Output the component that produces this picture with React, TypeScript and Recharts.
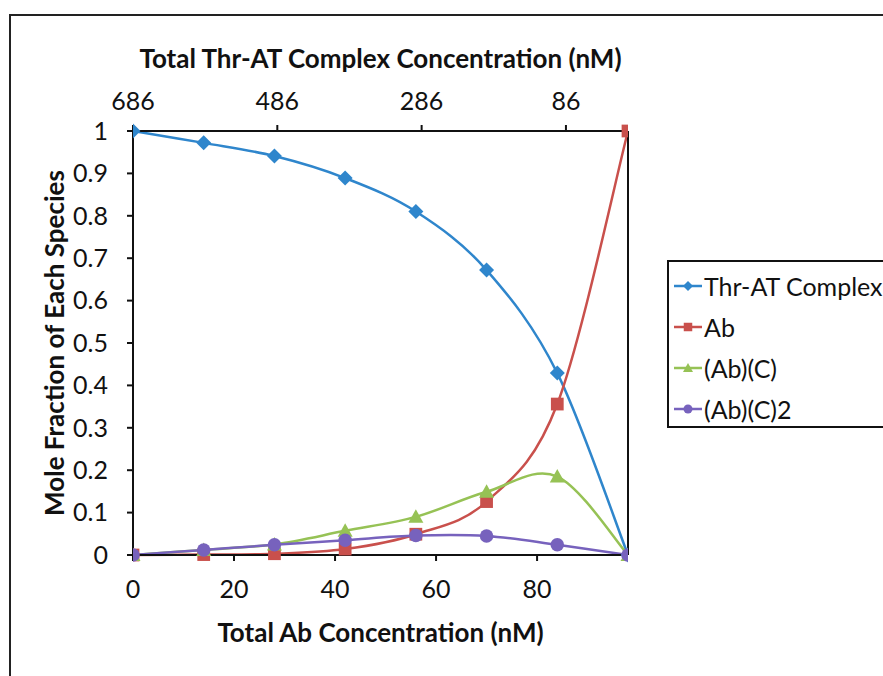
import React from 'react';
import { LineChart, Line, XAxis, YAxis } from 'recharts';

const abConc = [0, 14, 28, 42, 56, 70, 84, 98];
const thrATTotalConc = [686, 588, 490, 392, 294, 196, 98, 0];
const thrAT = [1, 0.972, 0.941, 0.889, 0.81, 0.672, 0.429, 0];
const abFree = [0, 0.001, 0.003, 0.014, 0.049, 0.126, 0.356, 1];
const abC = [0, 0.012, 0.025, 0.057, 0.09, 0.149, 0.185, 0];
const abC2 = [0, 0.012, 0.024, 0.035, 0.046, 0.045, 0.024, 0];

const bottomTicks = [0, 20, 40, 60, 80];
const topTicks = [686, 486, 286, 86];
const yTicks = [0, 0.1, 0.2, 0.3, 0.4, 0.5, 0.6, 0.7, 0.8, 0.9, 1];

const seriesNames = ['Thr-AT Complex', 'Ab', '(Ab)(C)', '(Ab)(C)2'];
const COLORS = ['#2f86cc', '#c9504c', '#96c255', '#7762bd'];

const data = abConc.map((x, i) => ({
  ab: x,
  thrTot: thrATTotalConc[i],
  thr: thrAT[i],
  abf: abFree[i],
  abc: abC[i],
  abc2: abC2[i],
}));

const FONT = 'Lato, "Open Sans", sans-serif';

// Excel-like smoothed line (Catmull-Rom through points)
const excelSmooth = (context: any) => {
  let xs: number[] = [];
  let ys: number[] = [];
  return {
    areaStart() {},
    areaEnd() {},
    lineStart() {
      xs = [];
      ys = [];
    },
    point(x: number, y: number) {
      xs.push(+x);
      ys.push(+y);
    },
    lineEnd() {
      const n = xs.length;
      if (!n) return;
      context.moveTo(xs[0], ys[0]);
      for (let i = 0; i < n - 1; i++) {
        const i0 = Math.max(i - 1, 0);
        const i3 = Math.min(i + 2, n - 1);
        const c1x = xs[i] + (xs[i + 1] - xs[i0]) / 6;
        const c1y = ys[i] + (ys[i + 1] - ys[i0]) / 6;
        const c2x = xs[i + 1] - (xs[i3] - xs[i]) / 6;
        const c2y = ys[i + 1] - (ys[i3] - ys[i]) / 6;
        context.bezierCurveTo(c1x, c1y, c2x, c2y, xs[i + 1], ys[i + 1]);
      }
    },
  };
};

const Marker = ({ kind, cx, cy, color, s }: any) => {
  if (kind === 0) {
    return <polygon points={`${cx},${cy - s} ${cx + s},${cy} ${cx},${cy + s} ${cx - s},${cy}`} fill={color} />;
  }
  if (kind === 1) {
    const h = s * 0.85;
    return <rect x={cx - h} y={cy - h} width={2 * h} height={2 * h} fill={color} />;
  }
  if (kind === 2) {
    const h = s;
    return <polygon points={`${cx},${cy - h} ${cx + h},${cy + h * 0.8} ${cx - h},${cy + h * 0.8}`} fill={color} />;
  }
  return <circle cx={cx} cy={cy} r={s * 0.9} fill={color} />;
};

const makeDot = (kind: number) => (props: any) => {
  const { cx, cy, index } = props;
  return (
    <g key={`d-${kind}-${index}`}>
      <Marker kind={kind} cx={cx} cy={cy} color={COLORS[kind]} s={7.5} />
    </g>
  );
};

const LegendBox = () => (
  <div
    style={{
      position: 'absolute',
      left: 667,
      top: 260,
      border: '2px solid #111',
      boxSizing: 'border-box',
      width: 260,
      height: 168,
      padding: '3px 0 0 4px',
      fontFamily: FONT,
      fontSize: 25,
      color: '#111',
      background: '#fff',
    }}
  >
    {seriesNames.map((name, i) => (
      <div key={name} style={{ display: 'flex', alignItems: 'center', height: 41, whiteSpace: 'nowrap' }}>
        <svg width={30} height={20} style={{ marginRight: 1 }}>
          <line x1={1} y1={10} x2={29} y2={10} stroke={COLORS[i]} strokeWidth={2.5} />
          <Marker kind={i} cx={15} cy={10} color={COLORS[i]} s={5} />
        </svg>
        <span>{name}</span>
      </div>
    ))}
  </div>
);

const TITLE_SIZE = 26;

const bottomTitle = (props: any) => {
  const { viewBox } = props;
  const cx = viewBox.x + viewBox.width / 2;
  const cy = viewBox.y + 77;
  return (
    <text x={cx} y={cy} textAnchor="middle" dominantBaseline="central" fontFamily={FONT} fontWeight={700} fontSize={TITLE_SIZE} fill="#111">
      Total Ab Concentration (nM)
    </text>
  );
};

const topTitle = (props: any) => {
  const { viewBox } = props;
  const cx = viewBox.x + viewBox.width / 2;
  const cy = viewBox.y + 58;
  return (
    <text x={cx} y={cy} textAnchor="middle" dominantBaseline="central" fontFamily={FONT} fontWeight={700} fontSize={TITLE_SIZE} fill="#111">
      Total Thr-AT Complex Concentration (nM)
    </text>
  );
};

const yTitle = (props: any) => {
  const { viewBox } = props;
  const cx = viewBox.x + 54;
  const cy = viewBox.y + viewBox.height / 2;
  return (
    <text x={cx} y={cy} transform={`rotate(-90 ${cx} ${cy})`} textAnchor="middle" dominantBaseline="central" fontFamily={FONT} fontWeight={700} fontSize={TITLE_SIZE} fill="#111">
      Mole Fraction of Each Species
    </text>
  );
};

const tickStyle = { fontSize: 25, fill: '#111', fontFamily: FONT };
const axisLine = { stroke: '#111', strokeWidth: 2 };

export default function App() {
  return (
    <div style={{ position: 'fixed', left: 0, top: 0, width: 883, height: 676, overflow: 'hidden', background: '#fff' }}>
      <div
        style={{
          position: 'absolute',
          left: 9,
          top: 14,
          width: 1000,
          height: 1000,
          borderLeft: '2px solid #222',
          borderTop: '2px solid #222',
        }}
      />
      <div style={{ position: 'absolute', left: 0, top: 0 }}>
        <LineChart width={883} height={676} data={data} margin={{ top: 0, right: 254, left: 0, bottom: 0 }}>
          <XAxis
            xAxisId="bottom"
            dataKey="ab"
            type="number"
            domain={[0, 98]}
            ticks={bottomTicks}
            interval={0}
            allowDataOverflow
            height={121}
            tick={tickStyle}
            tickSize={6}
            tickMargin={19}
            axisLine={axisLine}
            tickLine={axisLine}
            label={bottomTitle}
          />
          <XAxis
            xAxisId="top"
            dataKey="thrTot"
            orientation="top"
            type="number"
            domain={[0, 686]}
            reversed
            ticks={topTicks}
            interval={0}
            allowDataOverflow
            height={131}
            tick={tickStyle}
            tickSize={6}
            tickMargin={15}
            axisLine={axisLine}
            tickLine={axisLine}
            label={topTitle}
          />
          <YAxis
            yAxisId="left"
            type="number"
            domain={[0, 1]}
            ticks={yTicks}
            interval={0}
            width={133}
            tick={tickStyle}
            tickSize={6}
            tickMargin={19}
            axisLine={axisLine}
            tickLine={axisLine}
            label={yTitle}
          />
          <YAxis yAxisId="right" orientation="right" type="number" domain={[0, 1]} width={1} tick={false} tickLine={false} axisLine={axisLine} />
          <Line xAxisId="top" yAxisId="left" dataKey="thr" stroke="none" dot={false} activeDot={false} isAnimationActive={false} legendType="none" />
          <Line xAxisId="bottom" yAxisId="left" dataKey="thr" type={excelSmooth as any} stroke={COLORS[0]} strokeWidth={2.5} dot={makeDot(0)} activeDot={false} isAnimationActive={false} />
          <Line xAxisId="bottom" yAxisId="left" dataKey="abf" type={excelSmooth as any} stroke={COLORS[1]} strokeWidth={2.5} dot={makeDot(1)} activeDot={false} isAnimationActive={false} />
          <Line xAxisId="bottom" yAxisId="left" dataKey="abc" type={excelSmooth as any} stroke={COLORS[2]} strokeWidth={2.5} dot={makeDot(2)} activeDot={false} isAnimationActive={false} />
          <Line xAxisId="bottom" yAxisId="left" dataKey="abc2" type={excelSmooth as any} stroke={COLORS[3]} strokeWidth={2.5} dot={makeDot(3)} activeDot={false} isAnimationActive={false} />
        </LineChart>
      </div>
      <LegendBox />
    </div>
  );
}
